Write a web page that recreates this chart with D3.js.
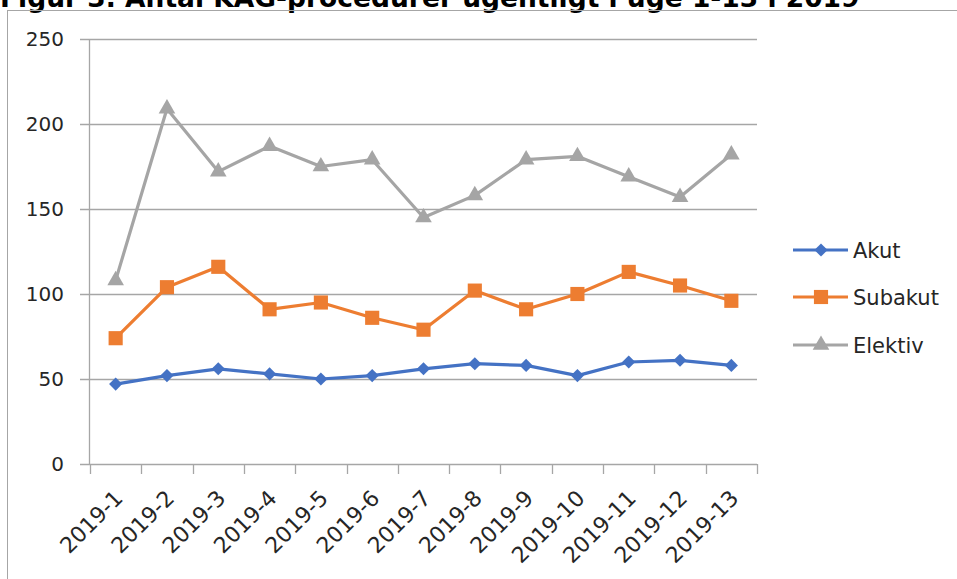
<!DOCTYPE html>
<html>
<head>
<meta charset="utf-8">
<script src="https://cdn.jsdelivr.net/npm/d3@7"></script>
<style>
  body { margin: 0; background: #fff; }
  svg { display: block; font-family: "DejaVu Sans", Verdana, sans-serif; }
</style>
</head>
<body>
<div id="chart"></div>
<script>
const categories = ["2019-1", "2019-2", "2019-3", "2019-4", "2019-5", "2019-6", "2019-7",
    "2019-8", "2019-9", "2019-10", "2019-11", "2019-12", "2019-13"];
const akut = [47, 52, 56, 53, 50, 52, 56, 59, 58, 52, 60, 61, 58];
const subakut = [74, 104, 116, 91, 95, 86, 79, 102, 91, 100, 113, 105, 96];
const elektiv = [108, 209, 172, 187, 175, 179, 145, 158, 179, 181, 169, 157, 182];
const yTicks = [0, 50, 100, 150, 200, 250];
const seriesNames = ["Akut", "Subakut", "Elektiv"];
const title = "Figur 3. Antal KAG-procedurer ugentligt i uge 1-13 i 2019";

const series = [
    { name: seriesNames[0], values: akut, color: "#4472C4", symbol: d3.symbolDiamond2, size: 110 },
    { name: seriesNames[1], values: subakut, color: "#ED7D31", symbol: d3.symbolSquare, size: 200 },
    { name: seriesNames[2], values: elektiv, color: "#A5A5A5", symbol: d3.symbolTriangle, size: 120 }
];

const W = 957, H = 579;
const svg = d3.select("#chart").append("svg").attr("width", W).attr("height", H);

// title, cut off at the top edge as in the source picture
svg.append("text")
    .attr("x", 0).attr("y", 7)
    .attr("font-size", "26.5px").attr("font-weight", "bold")
    .attr("fill", "#000")
    .text(title);

// chart frame
svg.append("rect")
    .attr("x", 7.5).attr("y", 10.5)
    .attr("width", W).attr("height", H)
    .attr("fill", "none").attr("stroke", "#a6a6a6");

const x = d3.scaleBand().domain(categories).range([90, 757]);
const y = d3.scaleLinear().domain([0, 250]).range([464, 39]);

// gridlines
svg.append("g").selectAll("line").data(yTicks).enter().append("line")
    .attr("x1", 80).attr("x2", 757)
    .attr("y1", d => Math.round(y(d)) + 0.5).attr("y2", d => Math.round(y(d)) + 0.5)
    .attr("stroke", "#a6a6a6").attr("stroke-width", 1.3);

// y axis line
svg.append("line")
    .attr("x1", 89.5).attr("x2", 89.5).attr("y1", y(250)).attr("y2", y(0))
    .attr("stroke", "#a6a6a6").attr("stroke-width", 1.3);

// x axis ticks at category boundaries
const bounds = categories.map(c => x(c)).concat([x.range()[1]]);
svg.append("g").selectAll("line").data(bounds).enter().append("line")
    .attr("x1", d => Math.round(d) + 0.5).attr("x2", d => Math.round(d) + 0.5)
    .attr("y1", y(0)).attr("y2", y(0) + 10)
    .attr("stroke", "#a6a6a6").attr("stroke-width", 1.3);

// y labels
svg.append("g").selectAll("text").data(yTicks).enter().append("text")
    .attr("x", 64).attr("y", d => y(d)).attr("dy", "0.36em")
    .attr("text-anchor", "end").attr("font-size", "20px").attr("fill", "#262626")
    .text(d => d);

// x labels rotated
const cx = c => x(c) + x.bandwidth() / 2;
svg.append("g").selectAll("text").data(categories).enter().append("text")
    .attr("transform", d => `translate(${cx(d) + 3},${494}) rotate(-45)`)
    .attr("dy", "0.36em")
    .attr("text-anchor", "end").attr("font-size", "22px").attr("fill", "#262626")
    .text(d => d);

// lines and markers
const line = d3.line().x((d, i) => cx(categories[i])).y(d => y(d));
series.forEach(s => {
    svg.append("path").datum(s.values)
        .attr("d", line)
        .attr("fill", "none").attr("stroke", s.color)
        .attr("stroke-width", 3.2).attr("stroke-linejoin", "round");
    svg.append("g").selectAll("path").data(s.values).enter().append("path")
        .attr("transform", (d, i) => `translate(${cx(categories[i])},${y(d)})`)
        .attr("d", d3.symbol().type(s.symbol).size(s.size))
        .attr("fill", s.color);
});

// legend
const legendY = [250, 297, 345];
const lg = svg.append("g").selectAll("g").data(series).enter().append("g")
    .attr("transform", (d, i) => `translate(0,${legendY[i]})`);
lg.append("line")
    .attr("x1", 793).attr("x2", 848).attr("y1", 0).attr("y2", 0)
    .attr("stroke", d => d.color).attr("stroke-width", 3.2);
lg.append("path")
    .attr("transform", "translate(821,0)")
    .attr("d", d => d3.symbol().type(d.symbol).size(d.size)())
    .attr("fill", d => d.color);
lg.append("text")
    .attr("x", 853).attr("y", 0).attr("dy", "0.36em")
    .attr("font-size", "21px").attr("fill", "#262626")
    .text(d => d.name);
</script>
</body>
</html>
